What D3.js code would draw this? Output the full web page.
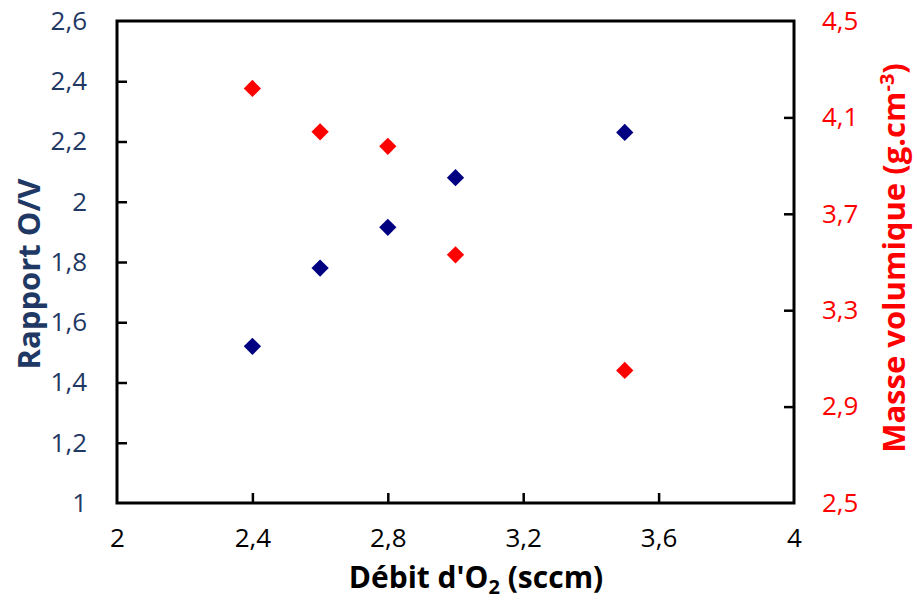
<!DOCTYPE html>
<html><head><meta charset="utf-8">
<script src="https://cdn.jsdelivr.net/npm/d3@7"></script>
<style>body{margin:0;background:#fff}svg{display:block}text{font-family:"Open Sans",sans-serif}</style>
</head><body>
<script>
const debit = [2.4, 2.6, 2.8, 3.0, 3.5];
const rapportOV = [1.52, 1.78, 1.915, 2.08, 2.23];
const masseVol = [4.22, 4.04, 3.98, 3.53, 3.05];
const xTicks = [2, 2.4, 2.8, 3.2, 3.6, 4];
const yLeftTicks = [1, 1.2, 1.4, 1.6, 1.8, 2, 2.2, 2.4, 2.6];
const yRightTicks = [2.5, 2.9, 3.3, 3.7, 4.1, 4.5];

const W = 917, H = 601;
const m = {left: 117, right: 794, top: 21, bottom: 503};
const svg = d3.select("body").append("svg").attr("width", W).attr("height", H);

const x = d3.scaleLinear().domain([2, 4]).range([m.left, m.right]);
const yL = d3.scaleLinear().domain([1, 2.6]).range([m.bottom, m.top]);
const yR = d3.scaleLinear().domain([2.5, 4.5]).range([m.bottom, m.top]);
const fmt = d => String(+d.toFixed(1)).replace(".", ",");
const navyText = "#1f3864";

function styleAxis(g, color) {
  g.select(".domain").remove();
  g.selectAll(".tick line").attr("stroke", "#000").attr("stroke-width", 2.5);
  g.selectAll(".tick text").attr("fill", color).style("font-size", "26px");
}

// Bottom axis
const gx = svg.append("g").attr("transform", `translate(0,${m.bottom})`)
  .call(d3.axisBottom(x).tickValues(xTicks).tickFormat(fmt).tickSizeInner(-10).tickSizeOuter(0).tickPadding(26));
styleAxis(gx, "#000");
gx.selectAll(".tick line").filter(d => d === 2 || d === 4).remove();

// Left axis
const gl = svg.append("g").attr("transform", `translate(${m.left},0)`)
  .call(d3.axisLeft(yL).tickValues(yLeftTicks).tickFormat(fmt).tickSizeInner(-10).tickSizeOuter(0).tickPadding(30));
styleAxis(gl, navyText);
gl.selectAll(".tick line").filter(d => d === 1 || d === 2.6).remove();

// Right axis
const gr = svg.append("g").attr("transform", `translate(${m.right},0)`)
  .call(d3.axisRight(yR).tickValues(yRightTicks).tickFormat(fmt).tickSizeInner(-10).tickSizeOuter(0).tickPadding(28));
styleAxis(gr, "#ff0000");
gr.selectAll(".tick line").filter(d => d === 2.5 || d === 4.5).remove();

// Frame
svg.append("rect").attr("x", m.left).attr("y", m.top)
  .attr("width", m.right - m.left).attr("height", m.bottom - m.top)
  .attr("fill", "none").attr("stroke", "#000").attr("stroke-width", 3);

// Markers
const diamond = d3.symbol().type(d3.symbolDiamond2).size(190);
svg.append("g").selectAll("path").data(debit.map((d, i) => [d, rapportOV[i]])).join("path")
  .attr("d", diamond).attr("transform", d => `translate(${x(d[0])},${yL(d[1])})`)
  .attr("fill", "#000080");
svg.append("g").selectAll("path").data(debit.map((d, i) => [d, masseVol[i]])).join("path")
  .attr("d", diamond).attr("transform", d => `translate(${x(d[0])},${yR(d[1])})`)
  .attr("fill", "#ff0000");

// Axis titles
const xt = svg.append("text").attr("x", 476).attr("y", 588)
  .attr("text-anchor", "middle").attr("font-weight", "bold").style("font-size", "30px").attr("fill", "#000");
xt.append("tspan").text("Débit d'O");
xt.append("tspan").text("2").style("font-size", "20px").attr("dy", 6);
xt.append("tspan").text(" (sccm)").attr("dy", -6);

svg.append("text").attr("transform", `translate(40,274) rotate(-90)`)
  .attr("text-anchor", "middle").attr("font-weight", "bold").style("font-size", "31px")
  .attr("fill", navyText).text("Rapport O/V");

const rt = svg.append("text").attr("transform", `translate(905,258) rotate(-90)`)
  .attr("text-anchor", "middle").attr("font-weight", "bold").style("font-size", "31px").attr("fill", "#ff0000");
rt.append("tspan").text("Masse volumique (g.cm");
rt.append("tspan").text("-3").style("font-size", "20px").attr("dy", -11);
rt.append("tspan").text(")").attr("dy", 11);
</script>
</body></html>
